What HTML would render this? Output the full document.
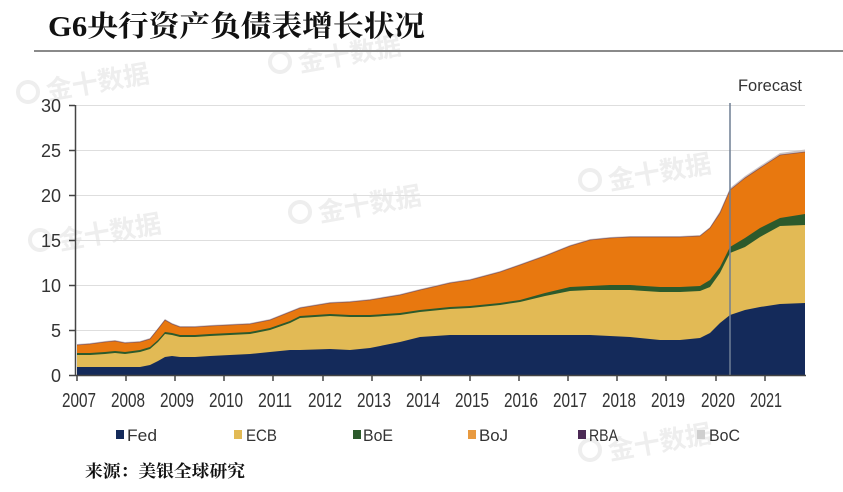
<!DOCTYPE html>
<html><head><meta charset="utf-8"><style>
html,body{margin:0;padding:0;background:#fff;}
svg{display:block;}
</style></head><body>
<svg width="843" height="492" viewBox="0 0 843 492" xmlns="http://www.w3.org/2000/svg">
<rect width="843" height="492" fill="#fff"/>
<!-- watermarks -->
<g font-family="'Liberation Sans','Noto Sans CJK SC',sans-serif" font-size="26" font-weight="bold" fill="#eeeeee">
<text x="48" y="100" transform="rotate(-10 48 100)">金十数据</text>
<text x="300" y="72" transform="rotate(-10 300 72)">金十数据</text>
<text x="610" y="190" transform="rotate(-10 610 190)">金十数据</text>
<text x="320" y="222" transform="rotate(-10 320 222)">金十数据</text>
<text x="60" y="250" transform="rotate(-10 60 250)">金十数据</text>
<text x="610" y="460" transform="rotate(-10 610 460)">金十数据</text>
</g>
<g fill="none" stroke="#eeeeee" stroke-width="4">
<circle cx="28" cy="92" r="10"/>
<circle cx="280" cy="62" r="10"/>
<circle cx="590" cy="180" r="10"/>
<circle cx="300" cy="212" r="10"/>
<circle cx="40" cy="240" r="10"/>
<circle cx="590" cy="450" r="10"/>
</g>
<!-- title -->
<text x="48" y="36" font-family="'Liberation Serif','Noto Serif CJK SC',serif" font-weight="bold" font-size="29" fill="#111" textLength="377" lengthAdjust="spacingAndGlyphs">G6央行资产负债表增长状况</text>
<line x1="34" y1="51" x2="843" y2="51" stroke="#8a8a8a" stroke-width="2"/>

<!-- gridlines -->
<g stroke="#dedede" stroke-width="1">
<line x1="76" y1="105.5" x2="805" y2="105.5"/>
<line x1="76" y1="150.5" x2="805" y2="150.5"/>
<line x1="76" y1="195.5" x2="805" y2="195.5"/>
<line x1="76" y1="240.5" x2="805" y2="240.5"/>
<line x1="76" y1="285.5" x2="805" y2="285.5"/>
<line x1="76" y1="330.5" x2="805" y2="330.5"/>
</g>

<!-- BoC -->
<path fill="#cdc6c6" d="M77,375 L77,344 L90,343 L105,341 L115,340 L125,342 L140,341 L150,338 L158,328 L165,319 L172,323 L180,326 L195,326 L210,325 L230,324 L250,323 L270,319 L290,311 L300,307 L330,302 L350,301 L370,299 L400,294 L420,289 L450,282 L470,279 L500,271 L520,264 L545,255 L570,245 L590,239 L610,237 L630,236 L660,236 L680,236 L700,235 L710,227 L720,211 L730,188 L745,176 L760,166 L780,153 L805,149.5 L805,375 Z"/>
<!-- BoJ -->
<path fill="#e8780f" d="M77,375 L77,345 L90,344 L105,342 L115,341 L125,343 L140,342 L150,339 L158,329 L165,320 L172,324 L180,327 L195,327 L210,326 L230,325 L250,324 L270,320 L290,312 L300,308 L330,303 L350,302 L370,300 L400,295 L420,290 L450,283 L470,280 L500,272 L520,265 L545,256 L570,246 L590,240 L610,238 L630,237 L660,237 L680,237 L700,236 L710,228 L720,213 L730,190 L745,178 L760,168 L780,155 L805,152 L805,375 Z"/>
<!-- RBA edge -->
<polyline fill="none" stroke="#5a3050" stroke-width="0.8" stroke-opacity="0.6" points="77,345 90,344 105,342 115,341 125,343 140,342 150,339 158,329 165,320 172,324 180,327 195,327 210,326 230,325 250,324 270,320 290,312 300,308 330,303 350,302 370,300 400,295 420,290 450,283 470,280 500,272 520,265 545,256 570,246 590,240 610,238 630,237 660,237 680,237 700,236 710,228 720,213 730,190 745,178 760,168 780,155 805,152"/>
<!-- BoE -->
<path fill="#2c5a2c" d="M77,375 L77,353 L90,353 L105,352 L115,351 L125,352 L140,350 L150,347 L158,340 L165,332 L172,333 L180,335 L195,335 L210,334 L230,333 L250,332 L270,328 L290,321 L300,316 L330,314 L350,315 L370,315 L400,313 L420,310 L450,307 L470,306 L500,303 L520,300 L545,293 L570,287 L590,286 L610,285 L630,285 L660,287 L680,287 L700,286 L710,280 L720,267 L730,247 L745,238 L760,228 L780,218 L805,214 L805,375 Z"/>
<!-- ECB -->
<path fill="#e2ba55" d="M77,375 L77,355 L90,355 L105,354 L115,353 L125,354 L140,352 L150,349 L158,342 L165,334 L172,335 L180,337 L195,337 L210,336 L230,335 L250,334 L270,330 L290,323 L300,318 L330,316 L350,317 L370,317 L400,315 L420,312 L450,309 L470,308 L500,305 L520,302 L545,296 L570,291 L590,290 L610,290 L630,290 L660,292 L680,292 L700,291 L710,287 L720,273 L730,253 L745,247 L760,237 L780,226 L805,225 L805,375 Z"/>
<!-- Fed -->
<path fill="#142a5a" d="M77,375 L77,367 L90,367 L105,367 L115,367 L125,367 L140,367 L150,365 L158,361 L165,357 L172,356 L180,357 L195,357 L210,356 L230,355 L250,354 L270,352 L290,350 L300,350 L330,349 L350,350 L370,348 L400,342 L420,337 L450,335 L470,335 L500,335 L520,335 L545,335 L570,335 L590,335 L610,336 L630,337 L660,340 L680,340 L700,338 L710,333 L720,323 L730,315 L745,310 L760,307 L780,304 L805,303 L805,375 Z"/>

<!-- forecast line -->
<line x1="730" y1="103" x2="730" y2="375" stroke="#6f7e94" stroke-width="1.5"/>
<text x="738" y="91" font-family="'Liberation Sans',sans-serif" font-size="17" fill="#333" textLength="64" lengthAdjust="spacingAndGlyphs">Forecast</text>

<!-- axes -->
<line x1="75.5" y1="105" x2="75.5" y2="376" stroke="#444" stroke-width="1.5"/>
<line x1="75" y1="375.5" x2="806" y2="375.5" stroke="#444" stroke-width="1.5"/>
<g stroke="#444" stroke-width="1.5">
<line x1="69" y1="105.5" x2="75" y2="105.5"/>
<line x1="69" y1="150.5" x2="75" y2="150.5"/>
<line x1="69" y1="195.5" x2="75" y2="195.5"/>
<line x1="69" y1="240.5" x2="75" y2="240.5"/>
<line x1="69" y1="285.5" x2="75" y2="285.5"/>
<line x1="69" y1="330.5" x2="75" y2="330.5"/>
<line x1="69" y1="375.5" x2="75" y2="375.5"/>
<line x1="77" y1="375" x2="77" y2="381"/>
<line x1="126" y1="375" x2="126" y2="381"/>
<line x1="175" y1="375" x2="175" y2="381"/>
<line x1="224" y1="375" x2="224" y2="381"/>
<line x1="273" y1="375" x2="273" y2="381"/>
<line x1="323" y1="375" x2="323" y2="381"/>
<line x1="372" y1="375" x2="372" y2="381"/>
<line x1="421" y1="375" x2="421" y2="381"/>
<line x1="470" y1="375" x2="470" y2="381"/>
<line x1="519" y1="375" x2="519" y2="381"/>
<line x1="568" y1="375" x2="568" y2="381"/>
<line x1="617" y1="375" x2="617" y2="381"/>
<line x1="666" y1="375" x2="666" y2="381"/>
<line x1="716" y1="375" x2="716" y2="381"/>
<line x1="765" y1="375" x2="765" y2="381"/>
</g>

<!-- y labels -->
<g font-family="'Liberation Sans',sans-serif" font-size="18" fill="#333" text-anchor="end">
<text x="61" y="112">30</text>
<text x="61" y="157">25</text>
<text x="61" y="202">20</text>
<text x="61" y="247">15</text>
<text x="61" y="292">10</text>
<text x="61" y="337">5</text>
<text x="61" y="382">0</text>
</g>

<!-- x labels -->
<g font-family="'Liberation Sans',sans-serif" font-size="20" fill="#333" text-anchor="middle">
<text x="79" y="407" textLength="34" lengthAdjust="spacingAndGlyphs">2007</text>
<text x="128" y="407" textLength="34" lengthAdjust="spacingAndGlyphs">2008</text>
<text x="177" y="407" textLength="34" lengthAdjust="spacingAndGlyphs">2009</text>
<text x="226" y="407" textLength="34" lengthAdjust="spacingAndGlyphs">2010</text>
<text x="275" y="407" textLength="34" lengthAdjust="spacingAndGlyphs">2011</text>
<text x="325" y="407" textLength="34" lengthAdjust="spacingAndGlyphs">2012</text>
<text x="374" y="407" textLength="34" lengthAdjust="spacingAndGlyphs">2013</text>
<text x="423" y="407" textLength="34" lengthAdjust="spacingAndGlyphs">2014</text>
<text x="472" y="407" textLength="34" lengthAdjust="spacingAndGlyphs">2015</text>
<text x="521" y="407" textLength="34" lengthAdjust="spacingAndGlyphs">2016</text>
<text x="570" y="407" textLength="34" lengthAdjust="spacingAndGlyphs">2017</text>
<text x="619" y="407" textLength="34" lengthAdjust="spacingAndGlyphs">2018</text>
<text x="668" y="407" textLength="34" lengthAdjust="spacingAndGlyphs">2019</text>
<text x="718" y="407" textLength="34" lengthAdjust="spacingAndGlyphs">2020</text>
<text x="766" y="407" textLength="32" lengthAdjust="spacingAndGlyphs">2021</text>
</g>

<!-- legend -->
<rect x="116" y="430" width="8" height="9" fill="#142a5a"/>
<rect x="234" y="430" width="8" height="9" fill="#e2ba55"/>
<rect x="353" y="430" width="8" height="9" fill="#2c5a2c"/>
<rect x="468" y="430" width="8" height="9" fill="#e89a40"/>
<rect x="578" y="430" width="8" height="9" fill="#4b2a55"/>
<rect x="697" y="430" width="8" height="9" fill="#cfcfcf"/>
<g font-family="'Liberation Sans',sans-serif" font-size="17" fill="#333">
<text x="127" y="441" textLength="30" lengthAdjust="spacingAndGlyphs">Fed</text>
<text x="246" y="441" textLength="31" lengthAdjust="spacingAndGlyphs">ECB</text>
<text x="363" y="441" textLength="30" lengthAdjust="spacingAndGlyphs">BoE</text>
<text x="479" y="441" textLength="29" lengthAdjust="spacingAndGlyphs">BoJ</text>
<text x="589" y="441" textLength="29" lengthAdjust="spacingAndGlyphs">RBA</text>
<text x="709" y="441" textLength="31" lengthAdjust="spacingAndGlyphs">BoC</text>
</g>

<!-- source -->
<text x="85" y="477" font-family="'Liberation Serif','Noto Serif CJK SC',serif" font-weight="bold" font-size="17" fill="#111" textLength="160" lengthAdjust="spacingAndGlyphs">来源：美银全球研究</text>
</svg>
</body></html>
